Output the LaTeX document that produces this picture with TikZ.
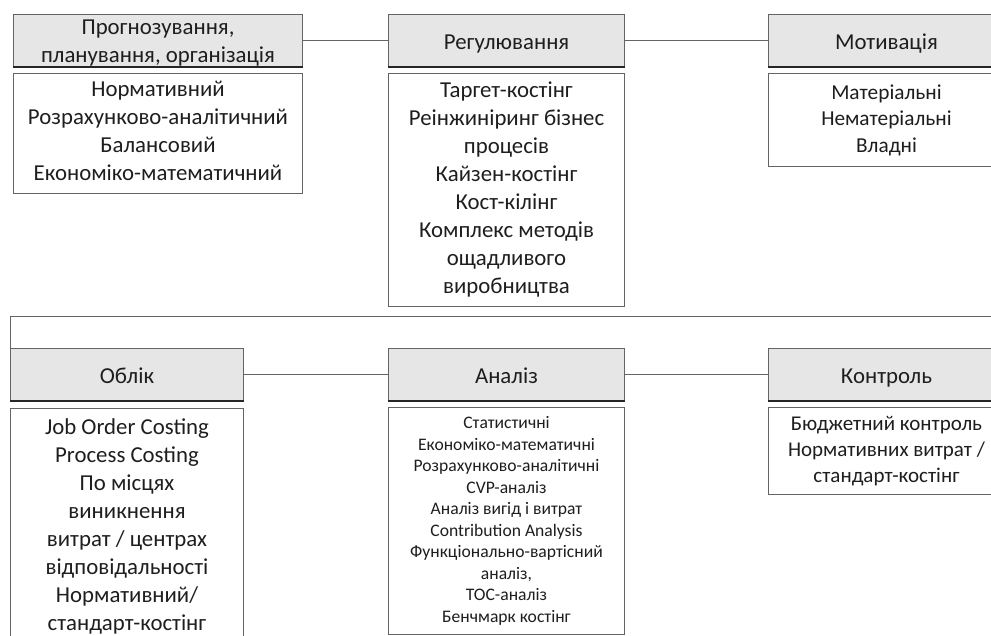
\documentclass[tikz,border=0pt]{standalone}
\usepackage{fontspec}
\setmainfont{Carlito}
\definecolor{hdr}{RGB}{230,230,230}
\definecolor{edge}{RGB}{100,100,100}
\definecolor{txt}{RGB}{30,30,30}
\begin{document}
\begin{tikzpicture}[x=1pt,y=-1pt,
  box/.style={draw=edge, line width=1pt, anchor=north west, inner sep=0pt, align=center, text=txt, font=\fontsize{22.8}{28}\selectfont},
  hbox/.style={box, fill=hdr, minimum height=52pt, text height=20pt, text depth=2.6pt},
  tx/.style={inner sep=0pt, align=center, text=txt, font=\fontsize{22.8}{28}\selectfont},
  small/.style={font=\fontsize{17.6}{21.5}\selectfont},
  mid/.style={font=\fontsize{21.3}{26.5}\selectfont},
  midb/.style={font=\fontsize{21}{26}\selectfont},
  link/.style={draw=edge, line width=1pt},
  hline/.style={draw=black!85, line width=1.2pt}]
\useasboundingbox (0,0) rectangle (991,635);
\clip (0,0) rectangle (991,635);
% top row
\node[box, fill=hdr, minimum height=52pt, minimum width=289pt] (h1) at (13,14) {};
\node[tx] (h1t) at ([yshift=-3pt]h1.center) {Прогнозування,\\планування, організація};
\node[box, minimum width=289pt, minimum height=120pt] (c1) at (13,73) {};
\node[tx] (c1t) at ([yshift=3pt]c1.center) {Нормативний\\Розрахунково-аналітичний\\Балансовий\\Економіко-математичний};
\node[hbox, minimum width=236pt] (h2) at (388,14) {Регулювання};
\node[box, minimum width=236pt, minimum height=233pt] (c2) at (388,73) {Таргет-костінг\\Реінжиніринг бізнес\\процесів\\Кайзен-костінг\\Кост-кілінг\\Комплекс методів\\ощадливого\\виробництва};
\node[hbox, minimum width=236pt] (h3) at (768,14) {Мотивація};
\node[box, mid, minimum width=236pt, minimum height=93pt] (c3) at (768,73) {Матеріальні\\Нематеріальні\\Владні};
% bottom row
\node[hbox, minimum width=233pt] (b1) at (10,348) {Облік};
\node[box, minimum width=233pt, minimum height=235pt] (d1) at (10,408) {Job Order Costing\\Process Costing\\По місцях\\виникнення\\витрат / центрах\\відповідальності\\Нормативний/\\стандарт-костінг};
\node[hbox, minimum width=236pt] (b2) at (388,348) {Аналіз};
\node[box, small, minimum width=236pt, minimum height=227pt] (d2) at (388,407) {Статистичні\\Економіко-математичні\\Розрахунково-аналітичні\\CVP-аналіз\\Аналіз вигід і витрат\\Contribution Analysis\\Функціонально-вартісний\\аналіз,\\TOC-аналіз\\Бенчмарк костінг};
\node[hbox, minimum width=236pt] (b3) at (768,348) {Контроль};
\node[box, midb, minimum width=236pt, minimum height=87pt] (d3) at (768,407) {Бюджетний контроль\\Нормативних витрат /\\стандарт-костінг};
% darker lower edges of the headers
\foreach \h in {h1,h2,h3,b1,b2,b3} \draw[hline] (\h.south west) -- (\h.south east);
% connectors
\draw[link] (h1.east) -- (h2.west);
\draw[link] (h2.east) -- (h3.west);
\draw[link] (b1.east) -- (b2.west);
\draw[link] (b2.east) -- (b3.west);
\coordinate (L) at (10,316.5);
\coordinate (R) at (1000,316.5);
\draw[link] (b1.north west) -- (L) -- (R);
\end{tikzpicture}
\end{document}
